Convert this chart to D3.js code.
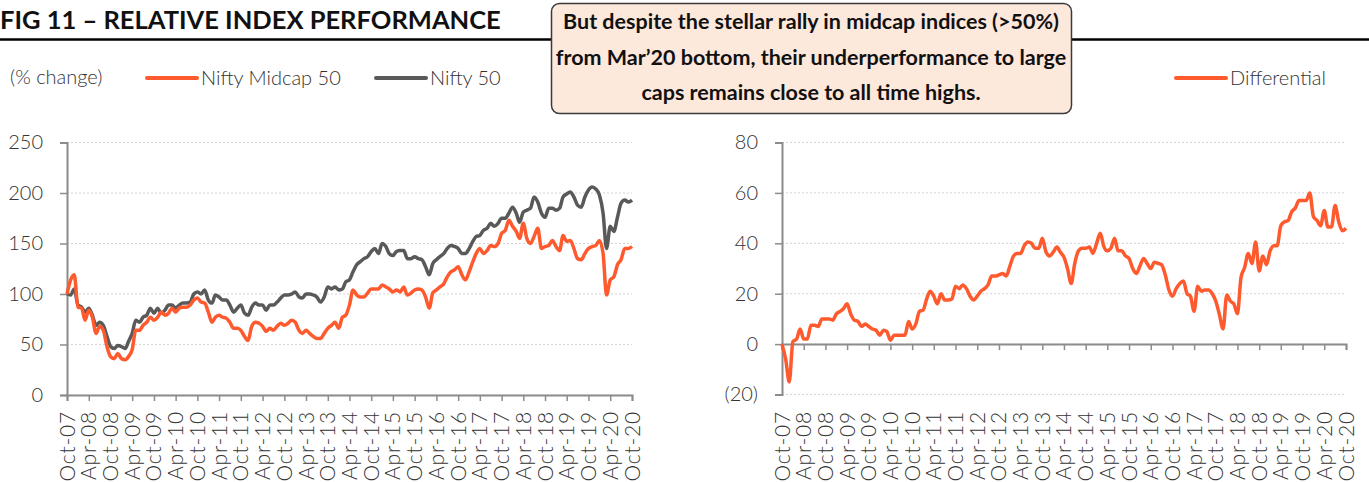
<!DOCTYPE html>
<html>
<head>
<meta charset="utf-8">
<script src="https://cdn.jsdelivr.net/npm/d3@7"></script>
<style>
  body { margin: 0; background: #fff; }
  svg text { font-family: "Lato", "Open Sans", sans-serif; }
</style>
</head>
<body>
<div id="chart"></div>
<script>

// monthly readings, Oct-07 .. Oct-20 (157 points)
var startMonth = "Oct-07";
var endMonth = "Oct-20";

var midcap = [100,114,119,87,86,74,84,77,61,68,64,48,38,36,41,36,35,38,45,64,
  64,69,72,77,74,77,82,79,81,86,82,86,87,87,89,94,96,92,91,82,
  72,77,79,77,76,72,66,66,64,58,54,68,72,71,68,63,66,64,68,71,
  69,71,74,72,64,61,64,61,58,56,56,61,66,69,72,66,77,79,89,104,
  99,97,97,101,105,105,105,109,107,105,102,104,102,107,99,101,104,105,104,97,
  86,101,104,107,110,117,122,124,127,119,114,122,132,140,145,140,143,148,147,150,
  160,163,173,167,162,155,170,155,150,157,165,145,147,148,153,147,143,158,152,153,
  145,135,134,140,145,147,148,153,140,99,114,117,129,134,145,145,147];

var nifty = [100,99,105,89,87,82,86,79,69,72,69,58,48,46,49,48,46,53,61,74,
  72,77,79,86,81,86,81,84,89,89,86,89,91,91,92,100,102,100,104,94,
  91,99,97,94,94,89,82,86,89,81,79,87,91,89,89,84,89,89,92,96,
  99,99,100,102,97,96,100,100,99,97,92,97,107,105,107,104,105,112,114,122,
  129,132,135,137,142,145,140,150,147,140,138,142,143,143,135,135,137,135,134,127,
  119,130,134,137,140,145,148,147,145,140,140,145,152,157,158,163,165,170,167,170,
  175,175,180,186,180,171,181,183,185,196,191,180,176,185,185,183,185,196,199,201,
  196,188,186,196,203,206,204,198,180,145,167,162,176,190,193,191,193];

var differential = [0,-6,-15,1,2,6,2,2,7.5,7.5,7,10,10,10,9.5,12,13,14,16,12,
  9.5,9,7,8,7,6,5.5,3.5,5.5,5,1.5,3.5,3.5,3.5,3.5,9,6,8,13,13.5,
  18,21,19,16,20,17.5,17.5,18,23,22,23.5,22,19,17.5,19,21,22,23.5,27,27,
  27.5,28,27,31,35,36,36,39,40.5,40,38,38,42,36.5,35,36.5,38.5,36.5,34.5,30,
  24,32,37,38,38,38.5,36,40,44,39,37,38,42,37,37,35,34,30,28,31,
  34,32,30,32.5,32,31.5,27.5,21.5,19,22,24,25,20,19,13,23,21,21.5,21.5,20,
  17,11.5,6,19.5,17,16,12,26.5,30.5,36,32,40.5,29,35,31.5,37,39,39,47,48.5,
  49,52.5,54,57,57,57,60,50.5,49,47,53,46.5,46.5,55,48.5,45,46];

var tickLabels = ["Oct-07","Apr-08","Oct-08","Apr-09","Oct-09","Apr-10","Oct-10","Apr-11","Oct-11",
  "Apr-12","Oct-12","Apr-13","Oct-13","Apr-14","Oct-14","Apr-15","Oct-15","Apr-16","Oct-16",
  "Apr-17","Oct-17","Apr-18","Oct-18","Apr-19","Oct-19","Apr-20","Oct-20"];

var leftTicks = [0, 50, 100, 150, 200, 250];
var rightTicks = [-20, 0, 20, 40, 60, 80];

var orange = "#ff5a2e",
    grey = "#595959",
    axisGrey = "#8c8c8c";

var parseMonth = d3.timeParse("%b-%y");
var months = d3.timeMonth.range(parseMonth(startMonth), d3.timeMonth.offset(parseMonth(endMonth), 1));
var tickDates = tickLabels.map(parseMonth);

var svg = d3.select("#chart").append("svg")
  .attr("width", 1369)
  .attr("height", 482);

// header
svg.append("line")
  .attr("x1", 0).attr("x2", 1369)
  .attr("y1", 39.5).attr("y2", 39.5)
  .style("stroke", "#000")
  .style("stroke-width", 2.5);

svg.append("text")
  .attr("x", 0).attr("y", 29)
  .style("font-size", "25.5px")
  .style("font-weight", "bold")
  .style("fill", "#111")
  .text("FIG 11 – RELATIVE INDEX PERFORMANCE");

// legends
var legend = svg.append("g")
  .style("font-size", "20px")
  .style("font-weight", 300)
  .style("fill", "#333");
legend.append("text").attr("x", 10).attr("y", 84).text("(% change)");

function legendItem(x, color, label) {
  legend.append("line")
    .attr("x1", x).attr("x2", x + 50)
    .attr("y1", 78).attr("y2", 78)
    .style("stroke", color)
    .style("stroke-width", 4)
    .style("stroke-linecap", "round");
  legend.append("text")
    .attr("x", x + 54).attr("y", 85)
    .text(label);
}
legendItem(147, orange, "Nifty Midcap 50");
legendItem(376, grey, "Nifty 50");
legendItem(1176, orange, "Differential");

function drawPanel(opts) {
  var x = d3.scaleTime()
    .domain([months[0], months[months.length - 1]])
    .range([opts.left, opts.right]);

  var y = d3.scaleLinear()
    .domain(opts.domain)
    .range([opts.bottom, opts.top]);

  var g = svg.append("g");

  // dotted grid
  g.selectAll(".grid")
    .data(opts.ticks)
    .enter().append("line")
    .attr("x1", opts.left).attr("x2", opts.right)
    .attr("y1", function(d) { return y(d); })
    .attr("y2", function(d) { return y(d); })
    .style("stroke", "#d4d4d4")
    .style("stroke-width", 1)
    .style("stroke-dasharray", "2,2");

  var yAxis = g.append("g")
    .attr("transform", "translate(" + opts.left + ",0)")
    .call(d3.axisLeft(y).tickValues(opts.ticks).tickSize(7).tickPadding(17)
      .tickFormat(function(d) { return d < 0 ? "(" + (-d) + ")" : d; }));

  var xAxis = g.append("g")
    .attr("transform", "translate(0," + y(opts.xAt) + ")")
    .call(d3.axisBottom(x).tickValues(tickDates).tickSize(6).tickFormat(function() { return ""; }));

  [xAxis, yAxis].forEach(function(a) {
    a.select(".domain").style("stroke", axisGrey).style("stroke-width", 2);
    a.selectAll(".tick line").style("stroke", axisGrey).style("stroke-width", 1.5);
  });
  yAxis.selectAll("text")
    .style("font-size", "20px")
    .style("font-family", "Lato, sans-serif")
    .style("font-weight", 300)
    .style("fill", "#333");

  // rotated month labels
  g.selectAll(".xlab")
    .data(tickLabels)
    .enter().append("text")
    .attr("transform", function(d) {
      return "translate(" + (x(parseMonth(d)) + 7.5) + "," + opts.labelTop + ") rotate(-90)";
    })
    .style("text-anchor", "end")
    .style("font-size", "21px")
    .style("letter-spacing", "0.8px")
    .style("font-weight", 300)
    .style("fill", "#333")
    .text(function(d) { return d; });

  var line = d3.line()
    .x(function(d, i) { return x(months[i]); })
    .y(function(d) { return y(d); })
    .curve(d3.curveMonotoneX);

  opts.series.forEach(function(s) {
    g.append("path")
      .datum(s.values)
      .attr("d", line)
      .style("fill", "none")
      .style("stroke", s.color)
      .style("stroke-width", 3.5)
      .style("stroke-linejoin", "round");
  });
}

drawPanel({
  left: 67, right: 632, top: 142.5, bottom: 395,
  domain: [0, 250], ticks: leftTicks, xAt: 0, labelTop: 411,
  series: [{values: nifty, color: grey}, {values: midcap, color: orange}]
});

drawPanel({
  left: 782, right: 1346, top: 142.5, bottom: 394.5,
  domain: [-20, 80], ticks: rightTicks, xAt: 0, labelTop: 411,
  series: [{values: differential, color: orange}]
});

// callout box
var note = svg.append("g");
note.append("rect")
  .attr("x", 551.5).attr("y", 3.5)
  .attr("width", 520).attr("height", 110)
  .attr("rx", 8)
  .style("fill", "#fde8dc")
  .style("stroke", "#3a3a3a")
  .style("stroke-width", 1.5);

var noteLines = ["But despite the stellar rally in midcap indices (>50%)",
  "from Mar\u201920 bottom, their underperformance to large",
  "caps remains close to all time highs."];

note.selectAll(".noteText")
  .data(noteLines)
  .enter().append("text")
  .attr("x", 811)
  .attr("y", function(d, i) { return 29 + i * 35.5; })
  .style("text-anchor", "middle")
  .style("font-size", "21.5px")
  .style("font-weight", "bold")
  .style("fill", "#111")
  .text(function(d) { return d; });

</script>
</body>
</html>
